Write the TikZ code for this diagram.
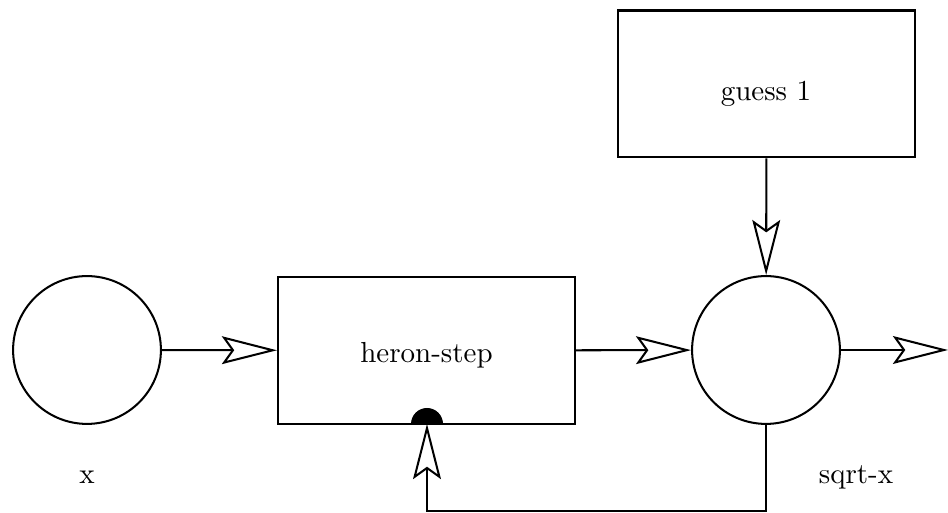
\documentclass[tikz,border=0pt]{standalone}
\usetikzlibrary{arrows.meta}
\begin{document}
\begin{tikzpicture}[x=0.345pt,y=-0.345pt,
  every path/.style={line width=0.7pt},
  flow/.style={-{Stealth[open,length=19pt,width=9.6pt,inset=3.4pt,line width=0.7pt]}},
  boxnode/.style={draw,rectangle,minimum width=102.5pt,minimum height=50.7pt,inner sep=0pt},
  circnode/.style={draw,circle,minimum size=51pt,inner sep=0pt},
  lbl/.style={inner sep=0pt,anchor=base}]
\useasboundingbox (0,0) rectangle (948,513);
\node[circnode] (xc) at (87,350) {};
\node[lbl] (xl) at (87,484) {x};
\node[boxnode] (heron) at (426.5,350.5) {};
\node[lbl] (heront) at (426.5,363) {heron-step};
\node[circnode] (sq) at (766,350) {};
\node[lbl] (sql) at (856,484) {sqrt-x};
\node[boxnode] (guess) at (766.5,84) {};
\node[lbl] (guesst) at (766,101) {guess 1};
\coordinate (out) at (948,350);
\coordinate (c1) at (766,511);
\coordinate (c2) at (427,511);
\coordinate (hb) at (427,424);
\fill (hb) ++(16,0) arc[start angle=0,end angle=-180,radius=16] -- cycle;
\draw[flow] (xc) -- (heron);
\draw[flow] (heron) -- (sq);
\draw[flow] (sq) -- (out);
\draw[flow] (guess) -- (sq);
\draw[flow] (sq.south) -- (c1) -- (c2) -- (hb);
\end{tikzpicture}
\end{document}
